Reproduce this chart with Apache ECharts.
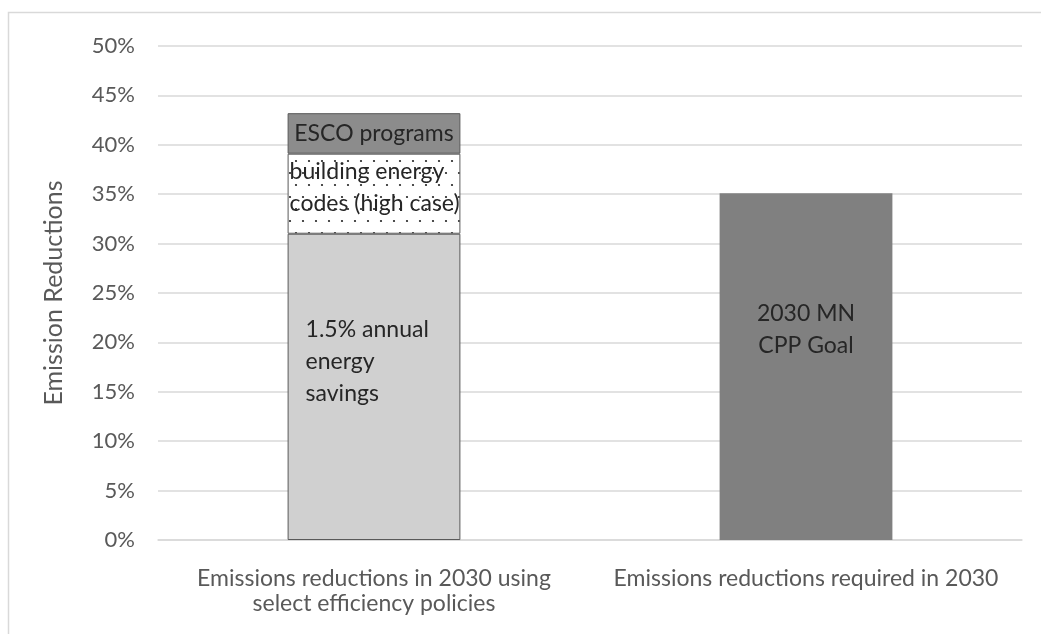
<!DOCTYPE html>
<html>
<head>
<meta charset="utf-8">
<script src="https://cdn.jsdelivr.net/npm/echarts@6/dist/echarts.min.js"></script>
<style>
  html, body { margin: 0; padding: 0; background: #fff; }
  #chart { width: 1041px; height: 634px; }
</style>
</head>
<body>
<div id="chart"></div>
<script>
var categories = ['Emissions reductions in 2030 using\nselect efficiency policies', 'Emissions reductions required in 2030'];
var annualSavings = [31.0, '-'];
var buildingCodes = [8.1, '-'];
var escoPrograms = [4.1, '-'];
var cppGoal = ['-', 35.1];
var yTicks = [0, 5, 10, 15, 20, 25, 30, 35, 40, 45, 50];

// dotted fill for the building codes block
function dotPattern() {
    var c = document.createElement('canvas');
    c.width = 26; c.height = 24;
    var ctx = c.getContext('2d');
    ctx.fillStyle = '#ffffff';
    ctx.fillRect(0, 0, 26, 24);
    ctx.fillStyle = '#222222';
    [[4, 5], [17, 5], [10, 17], [23, 17]].forEach(function (p) {
        ctx.beginPath();
        ctx.arc(p[0], p[1], 1.1, 0, Math.PI * 2);
        ctx.fill();
    });
    return c;
}

var chart = echarts.init(document.getElementById('chart'));
var font = 'Lato, "Open Sans", sans-serif';
var inLabel = { color: '#262626', fontSize: 23, fontFamily: font };
var option = {
    animation: false,
    backgroundColor: '#fff',
    textStyle: { fontFamily: font },
    graphic: [{
        type: 'rect',
        shape: { x: 8.5, y: 12.5, width: 1100, height: 700 },
        style: { fill: 'none', stroke: '#d9d9d9', lineWidth: 1.5 },
        silent: true
    }],
    grid: { left: 158, right: 19, top: 46, bottom: 94 },
    xAxis: {
        type: 'category',
        data: categories,
        axisLine: { lineStyle: { color: '#d9d9d9', width: 1.5 } },
        axisTick: { show: false },
        axisLabel: {
            color: '#595959', fontSize: 23, lineHeight: 25, margin: 26,
            fontFamily: font, interval: 0
        }
    },
    yAxis: {
        type: 'value',
        min: yTicks[0],
        max: yTicks[yTicks.length - 1],
        interval: 5,
        name: 'Emission Reductions',
        nameLocation: 'middle',
        nameGap: 92,
        nameTextStyle: { color: '#595959', fontSize: 25, fontFamily: font },
        axisLine: { show: false },
        axisTick: { show: false },
        splitLine: { lineStyle: { color: '#d9d9d9', width: 1.5 } },
        axisLabel: {
            color: '#595959', fontSize: 22, margin: 23, fontFamily: font,
            formatter: function (v) { return v + '%'; }
        }
    },
    series: [{
        name: '1.5% annual energy savings',
        type: 'bar',
        stack: 'a',
        barWidth: '40%',
        data: annualSavings,
        itemStyle: { color: '#d0d0d0', borderColor: '#595959', borderWidth: 1 },
        label: Object.assign({
            show: true,
            position: [18, 80],
            align: 'left',
            lineHeight: 32,
            formatter: '1.5% annual\nenergy\nsavings'
        }, inLabel)
    }, {
        name: 'building energy codes (high case)',
        type: 'bar',
        stack: 'a',
        data: buildingCodes,
        itemStyle: {
            color: { image: dotPattern(), repeat: 'repeat' },
            borderColor: '#595959', borderWidth: 1
        },
        label: Object.assign({
            show: true,
            position: [2, 2],
            align: 'left',
            lineHeight: 32,
            formatter: 'building energy\ncodes (high case)'
        }, inLabel)
    }, {
        name: 'ESCO programs',
        type: 'bar',
        stack: 'a',
        data: escoPrograms,
        itemStyle: { color: '#8c8c8c', borderColor: '#595959', borderWidth: 1 },
        label: Object.assign({
            show: true,
            position: 'inside',
            formatter: 'ESCO programs'
        }, inLabel)
    }, {
        name: '2030 MN CPP Goal',
        type: 'bar',
        stack: 'a',
        data: cppGoal,
        itemStyle: { color: '#808080' },
        label: Object.assign({
            show: true,
            position: ['50%', 104],
            align: 'center',
            lineHeight: 32,
            formatter: '2030 MN\nCPP Goal'
        }, inLabel)
    }]
};
chart.setOption(option);
</script>
</body>
</html>
